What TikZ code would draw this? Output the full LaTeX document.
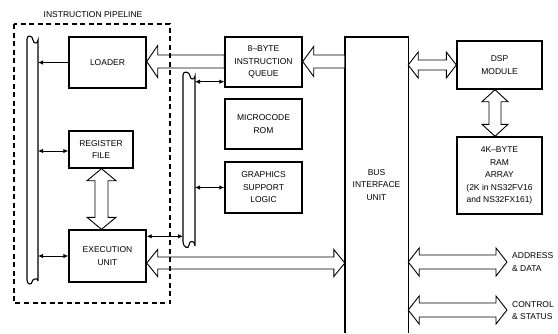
\documentclass[tikz,border=0pt]{standalone}
\usepackage{fontspec}
\setmainfont{Liberation Sans}
\usetikzlibrary{calc,arrows.meta}
\newcommand\hdbl[6]{%
 \draw[warr] let \p1=#1, \p2=#2 in
  (\x1,-#3pt) -- ({\x1+#6pt},{-(#3-#5)*1pt}) -- ({\x1+#6pt},{-(#3-#4)*1pt})
  -- ({\x2-#6pt},{-(#3-#4)*1pt}) -- ({\x2-#6pt},{-(#3-#5)*1pt}) -- (\x2,-#3pt)
  -- ({\x2-#6pt},{-(#3+#5)*1pt}) -- ({\x2-#6pt},{-(#3+#4)*1pt})
  -- ({\x1+#6pt},{-(#3+#4)*1pt}) -- ({\x1+#6pt},{-(#3+#5)*1pt}) -- cycle;}
\newcommand\hsgl[6]{%
 \draw[warr] let \p1=#1, \p2=#2 in
  (\x1,-#3pt) -- ({\x1+#6pt},{-(#3-#5)*1pt}) -- ({\x1+#6pt},{-(#3-#4)*1pt})
  -- (\x2,{-(#3-#4)*1pt}) -- (\x2,{-(#3+#4)*1pt})
  -- ({\x1+#6pt},{-(#3+#4)*1pt}) -- ({\x1+#6pt},{-(#3+#5)*1pt}) -- cycle;}
\newcommand\vdbl[6]{%
 \draw[warr] let \p1=#1, \p2=#2 in
  (#3pt,\y1) -- ({(#3-#5)*1pt},{\y1-#6pt}) -- ({(#3-#4)*1pt},{\y1-#6pt})
  -- ({(#3-#4)*1pt},{\y2+#6pt}) -- ({(#3-#5)*1pt},{\y2+#6pt}) -- (#3pt,\y2)
  -- ({(#3+#5)*1pt},{\y2+#6pt}) -- ({(#3+#4)*1pt},{\y2+#6pt})
  -- ({(#3+#4)*1pt},{\y1-#6pt}) -- ({(#3+#5)*1pt},{\y1-#6pt}) -- cycle;}
\begin{document}
\begin{tikzpicture}[x=1pt,y=-1pt,
  txt/.style={font=\fontsize{8.5}{12.5}\selectfont, align=center, inner sep=0pt},
  blk/.style={txt, draw, line width=1.4pt},
  warr/.style={draw, fill=white, line width=0.9pt, line join=miter},
  bus/.style={line width=1.1pt},
  sarr/.style={line width=0.9pt, {Latex[length=5pt,width=4.5pt]}-{Latex[length=5pt,width=4.5pt]}},
  sarr1/.style={line width=0.9pt, -{Latex[length=5pt,width=4.5pt]}}]
\useasboundingbox (0,0) rectangle (558,333);

% boxes
\node[blk, minimum width=77pt, minimum height=51pt] (loader) at (107.5,62.5) {LOADER};
\node[blk, minimum width=64pt, minimum height=37pt] (regfile) at (101,149.5) {REGISTER\\FILE};
\node[blk, minimum width=77pt, minimum height=52pt] (exec) at (107.5,256) {EXECUTION\\UNIT};
\node[blk, minimum width=77pt, minimum height=50pt] (queue) at (263.5,62) {8–BYTE\\INSTRUCTION\\QUEUE};
\node[blk, minimum width=77pt, minimum height=50pt] (rom) at (263.5,124) {MICROCODE\\ROM};
\node[blk, minimum width=77pt, minimum height=51pt] (gfx) at (263.5,187.5) {GRAPHICS\\SUPPORT\\LOGIC};
\node[txt, minimum width=63pt, minimum height=296pt] (biu) at (376.5,185) {BUS\\INTERFACE\\UNIT};
\draw[line width=1.4pt] (biu.south west) -- (biu.north west) -- (biu.north east) -- (biu.south east);
\node[blk, minimum width=85pt, minimum height=48pt] (dsp) at (499.5,65) {DSP\\MODULE};
\node[blk, minimum width=85pt, minimum height=77pt] (ram) at (499.5,175.5) {4K–BYTE\\RAM\\ARRAY\\(2K in NS32FV16\\and NS32FX161)};

\node[txt] (title) at (93,15) {INSTRUCTION PIPELINE};
\node[txt, align=left, anchor=west] (lad) at (512,262) {ADDRESS\\\& DATA};
\node[txt, align=left, anchor=west] (lcs) at (512,310.5) {CONTROL\\\& STATUS};

% buses
\coordinate (lbR) at (38,150);
\coordinate (rbL) at (183,150);
\coordinate (rbR) at (195,150);
\draw[bus] (38,281) -- (38,40) .. controls (38,44) and (33,44) .. (33,40)
  .. controls (33,36) and (27,34) .. (27,39) -- (27,280)
  .. controls (27,285) and (32,285) .. (32,282) .. controls (32,279) and (38,277) .. (38,281);
\draw[bus] (195,246) -- (195,76) .. controls (195,80) and (190,80) .. (190,76)
  .. controls (190,72) and (183,70) .. (183,75) -- (183,242)
  .. controls (183,247) and (189,250) .. (189,245) .. controls (189,240) and (195,240) .. (195,246);

% small arrows
\coordinate (qa) at ($(queue.south west)+(0,-6)$);
\coordinate (ea) at ($(exec.north east)+(0,7)$);
\coordinate (ra) at (regfile.west |- 0,151);
\draw[sarr1] (loader.west) -- (loader.west -| lbR);
\draw[sarr] (ra) -- (ra -| lbR);
\draw[sarr] (exec.west) -- (exec.west -| lbR);
\draw[sarr] (qa) -- (qa -| rbR);
\draw[sarr] (gfx.west) -- (gfx.west -| rbR);
\draw[sarr] (ea) -- (ea -| rbL);

% wide arrows
\coordinate (ad) at (507,262);
\coordinate (cs) at (507,310);
\hsgl{(loader.east)}{(queue.west)}{61.5}{6.5}{16}{11}
\hsgl{(queue.east)}{(biu.west)}{61.5}{6.5}{15}{11}
\hdbl{(exec.east)}{(biu.west)}{263}{6}{13.5}{11}
\hdbl{(biu.east)}{(dsp.west)}{65}{5}{13}{10}
\vdbl{(dsp.south)}{(ram.north)}{495}{6}{13}{12}
\vdbl{(regfile.south)}{(exec.north)}{101.5}{6.5}{14.5}{12}
\hdbl{(biu.east)}{(ad)}{262}{7}{14}{11}
\hdbl{(biu.east)}{(cs)}{310}{7}{14}{11}

% pipeline frame
\draw[line width=1.3pt, dash pattern=on 5pt off 3.5pt] (14,24) rectangle (170,303);
\end{tikzpicture}
\end{document}
